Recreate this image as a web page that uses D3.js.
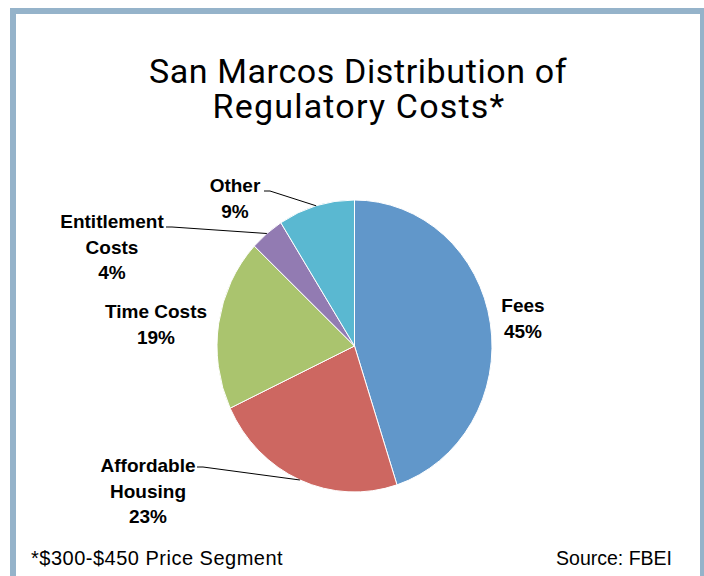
<!DOCTYPE html>
<html>
<head>
<meta charset="utf-8">
<script src="https://cdn.jsdelivr.net/npm/d3@7"></script>
<style>
  body { margin: 0; background: #fff; }
  .vis { width: 704px; height: 576px; }
  text { fill: #000; }
</style>
</head>
<body>
<div class="vis"></div>
<script>
(function() {
  'use strict';

  // data
  var categories = ['Fees', 'Affordable Housing', 'Time Costs', 'Entitlement Costs', 'Other'];
  var values = [45, 23, 19, 4, 9];
  var colors = ['#6197ca', '#cd6761', '#aac46e', '#927bb2', '#5ab8d1'];
  var labelLines = [
    ['Fees', '45%'],
    ['Affordable', 'Housing', '23%'],
    ['Time Costs', '19%'],
    ['Entitlement', 'Costs', '4%'],
    ['Other', '9%']
  ];

  // where each label sits (center x, first baseline y) and whether it has a leader
  var labelPos = {
    'Fees': {x: 523, y: 312, leader: false},
    'Affordable Housing': {x: 148, y: 472, leader: true, lx: 197, ly: 467},
    'Time Costs': {x: 156, y: 318, leader: false},
    'Entitlement Costs': {x: 112, y: 228, leader: true, lx: 166, ly: 227},
    'Other': {x: 235, y: 192, leader: true, lx: 264, ly: 191}
  };

  var elWidth = 704,
    elHeight = 576,
    cx = 354.5,
    cy = 346,
    radius = 146,
    squeeze = 137.5 / 146; // the pie is a bit narrower than tall

  var svg = d3.select('.vis').append('svg')
    .attr('width', elWidth)
    .attr('height', elHeight);

  // frame
  svg.append('rect')
    .attr('x', 10).attr('y', 8)
    .attr('width', 700).attr('height', 580)
    .attr('fill', '#95b3ca');
  svg.append('rect')
    .attr('x', 16).attr('y', 14)
    .attr('width', 684).attr('height', 570)
    .attr('fill', '#fff');

  // title
  var title = svg.append('text')
    .attr('text-anchor', 'middle')
    .style('font-family', 'Roboto, sans-serif')
    .style('font-size', '34px');
  title.append('tspan').attr('x', 358).attr('y', 83)
    .style('letter-spacing', '0.6px')
    .text('San Marcos Distribution of');
  title.append('tspan').attr('x', 359).attr('y', 118)
    .style('letter-spacing', '1.2px')
    .text('Regulatory Costs*');

  var data = categories.map(function(c, i) {
    return {name: c, value: values[i], color: colors[i], lines: labelLines[i]};
  });

  var pie = d3.pie()
    .sort(null)
    .value(function(d) { return d.value; });

  var arc = d3.arc()
    .innerRadius(0)
    .outerRadius(radius);

  var arcs = pie(data);

  var g = svg.append('g')
    .attr('transform', 'translate(' + cx + ',' + cy + ') scale(' + squeeze + ',1)');

  g.selectAll('.slice')
    .data(arcs)
    .enter()
    .append('path')
      .attr('class', 'slice')
      .attr('d', arc)
      .attr('fill', function(d) { return d.data.color; })
      .attr('stroke', '#fff')
      .attr('stroke-width', 1)
      .attr('vector-effect', 'non-scaling-stroke');

  // leader lines
  arcs.forEach(function(d) {
    var p = labelPos[d.data.name];
    if (!p.leader) { return; }
    var mid = (d.startAngle + d.endAngle) / 2;
    var ex = cx + radius * squeeze * Math.sin(mid),
      ey = cy - radius * Math.cos(mid);
    svg.append('polyline')
      .attr('points', [[p.lx, p.ly], [p.lx + 6, p.ly], [ex, ey]].join(' '))
      .attr('fill', 'none')
      .attr('stroke', '#000')
      .attr('stroke-width', 1);
  });

  // labels
  arcs.forEach(function(d) {
    var p = labelPos[d.data.name];
    var t = svg.append('text')
      .attr('text-anchor', 'middle')
      .style('font-family', '"Liberation Sans", Arial, sans-serif')
      .style('font-weight', 'bold')
      .style('font-size', '19px');
    d.data.lines.forEach(function(line, i) {
      t.append('tspan')
        .attr('x', p.x)
        .attr('y', p.y + i * 25.5)
        .text(line);
    });
  });

  // footer
  svg.append('text')
    .attr('x', 31).attr('y', 565)
    .style('font-family', '"Liberation Sans", Arial, sans-serif')
    .style('font-size', '20px')
    .style('letter-spacing', '0.5px')
    .text('*$300-$450 Price Segment');
  svg.append('text')
    .attr('x', 672).attr('y', 565)
    .attr('text-anchor', 'end')
    .style('font-family', '"Liberation Sans", Arial, sans-serif')
    .style('font-size', '19.5px')
    .text('Source: FBEI');
}());
</script>
</body>
</html>
